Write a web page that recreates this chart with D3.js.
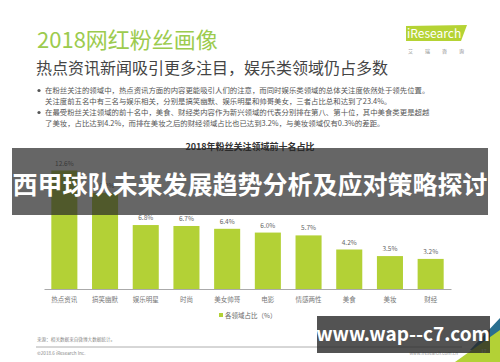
<!DOCTYPE html>
<html>
<head>
<meta charset="utf-8">
<script src="https://cdn.jsdelivr.net/npm/d3@7"></script>
<style>
  html, body { margin: 0; padding: 0; background: #fff; }
  svg text { font-family: "Noto Sans CJK SC", "Noto Sans", sans-serif; }
</style>
</head>
<body>
<script>
// 数据
const categories = ["热点资讯", "搞笑幽默", "娱乐明星", "时尚", "美女帅哥", "电影", "情感两性", "美食", "美妆", "财经"];
const values = [12.6, 10.2, 6.8, 6.7, 6.4, 6.0, 5.7, 4.2, 3.5, 3.2];
const bullets = [
  "在粉丝关注的领域中，热点资讯方面的内容更能吸引人们的注意，而同时娱乐类领域的总体关注度依然处于领先位置。",
  "关注度前五名中有三名与娱乐相关，分别是搞笑幽默、娱乐明星和帅哥美女，三者占比总和达到了23.4%。",
  "在最受粉丝关注领域的前十名中，美食、财经类内容作为新兴领域的代表分别排在第八、第十位，其中美食类更是超越",
  "了美妆，占比达到4.2%，而排在美妆之后的财经领域占比也已达到3.2%，与美妆领域仅有0.3%的差距。"
];

const w = 500, h = 362;
const svg = d3.select("body").append("svg").attr("width", w).attr("height", h);

// 标题
svg.append("text").attr("x", 37).attr("y", 48)
  .attr("font-size", 22).attr("fill", "#9ccb4e").text("2018网红粉丝画像");
svg.append("text").attr("x", 36).attr("y", 74)
  .attr("font-size", 16).attr("fill", "#444").text("热点资讯新闻吸引更多注目，娱乐类领域仍占多数");

// logo
svg.append("path").attr("d", "M406,26 L467,25 L461,41 L406,41 Z").attr("fill", "#b5d334");
svg.append("text").attr("x", 407).attr("y", 38).attr("font-size", 12)
  .attr("fill", "#fff").text("iResearch");
svg.append("text").attr("x", 408).attr("y", 53).attr("font-size", 5)
  .attr("fill", "#888").attr("letter-spacing", 12).text("艾瑞咨询");

// 要点
bullets.forEach((b, i) => {
  const y = 93 + i * 11;
  if (i === 0 || i === 2) {
    svg.append("circle").attr("cx", 39).attr("cy", y - 2.5).attr("r", 1.6).attr("fill", "#555");
  }
  svg.append("text").attr("x", 45).attr("y", y).attr("font-size", 7.4)
    .attr("fill", "#555").text(b);
});

// 图表标题
svg.append("text").attr("x", 250).attr("y", 150).attr("text-anchor", "middle")
  .attr("font-size", 9).attr("font-weight", "bold").attr("fill", "#333")
  .text("2018年粉丝关注领域前十名占比");

// 比例尺
const x = d3.scaleBand().domain(categories).range([44, 451]).paddingInner(0.36).paddingOuter(0.18);
const y = d3.scaleLinear().domain([0, 12.6]).range([289, 170.5]);

svg.append("g").selectAll("rect").data(values).join("rect")
  .attr("x", (d, i) => x(categories[i]))
  .attr("y", d => y(d))
  .attr("width", x.bandwidth())
  .attr("height", d => y(0) - y(d))
  .attr("fill", "#b3d136");

svg.append("g").selectAll("text").data(values).join("text")
  .attr("x", (d, i) => x(categories[i]) + x.bandwidth() / 2)
  .attr("y", d => y(d) - 5)
  .attr("text-anchor", "middle").attr("font-size", 6.5).attr("fill", "#666")
  .text(d => d.toFixed(1) + "%");

const xAxis = svg.append("g").attr("transform", "translate(0,289)")
  .call(d3.axisBottom(x).tickSize(0).tickPadding(8));
xAxis.select(".domain").attr("stroke", "#aaa").attr("stroke-width", 1);
xAxis.selectAll("text").attr("font-size", 6.5).attr("fill", "#777")
  .attr("font-family", "Noto Sans CJK SC, sans-serif");

// 图例
svg.append("rect").attr("x", 219).attr("y", 313).attr("width", 4).attr("height", 4).attr("fill", "#b3d136");
svg.append("text").attr("x", 225).attr("y", 317.5).attr("font-size", 6.5).attr("fill", "#666")
  .text("各领域占比（%）");

// 来源
svg.append("text").attr("x", 37).attr("y", 341).attr("font-size", 4.6).attr("fill", "#888")
  .text("来源：相关数据来自微博大数据统计。");
svg.append("line").attr("x1", 36).attr("x2", 462).attr("y1", 347).attr("y2", 347)
  .attr("stroke", "#999").attr("stroke-width", 0.8);
svg.append("text").attr("x", 37).attr("y", 355).attr("font-size", 4.6).attr("fill", "#888")
  .text("©2018.6 iResearch Inc.");
svg.append("text").attr("x", 458).attr("y", 355).attr("text-anchor", "end").attr("font-size", 4.6)
  .attr("fill", "#999").text("www.iresearch.com.cn");

// 角落装饰
svg.append("path").attr("d", "M500,318 L500,350 L470,350 Z").attr("fill", "#2a6f8f");
svg.append("path").attr("d", "M500,330 L500,362 L455,362 Z").attr("fill", "#b3d136");
svg.append("text").attr("x", 481).attr("y", 353).attr("font-size", 5).attr("fill", "#fff").text("17");

// 遮罩层
svg.append("rect").attr("x", 12).attr("y", 148).attr("width", 476).attr("height", 67)
  .attr("fill", "rgb(40,40,40)").attr("fill-opacity", 0.71);
svg.append("text").attr("x", 250).attr("y", 194).attr("text-anchor", "middle")
  .attr("font-size", 25).attr("font-weight", "bold").attr("fill", "#fff")
  .text("西甲球队未来发展趋势分析及应对策略探讨");

svg.append("rect").attr("x", 317).attr("y", 316).attr("width", 173).attr("height", 37)
  .attr("fill", "rgb(40,40,40)").attr("fill-opacity", 0.8);
svg.append("text").attr("x", 403).attr("y", 341).attr("text-anchor", "middle")
  .attr("font-size", 19).attr("font-weight", "bold").attr("fill", "#fff")
  .attr("font-family", "Open Sans, DejaVu Sans, sans-serif")
  .text("www.wap--c7.com");
</script>
</body>
</html>
